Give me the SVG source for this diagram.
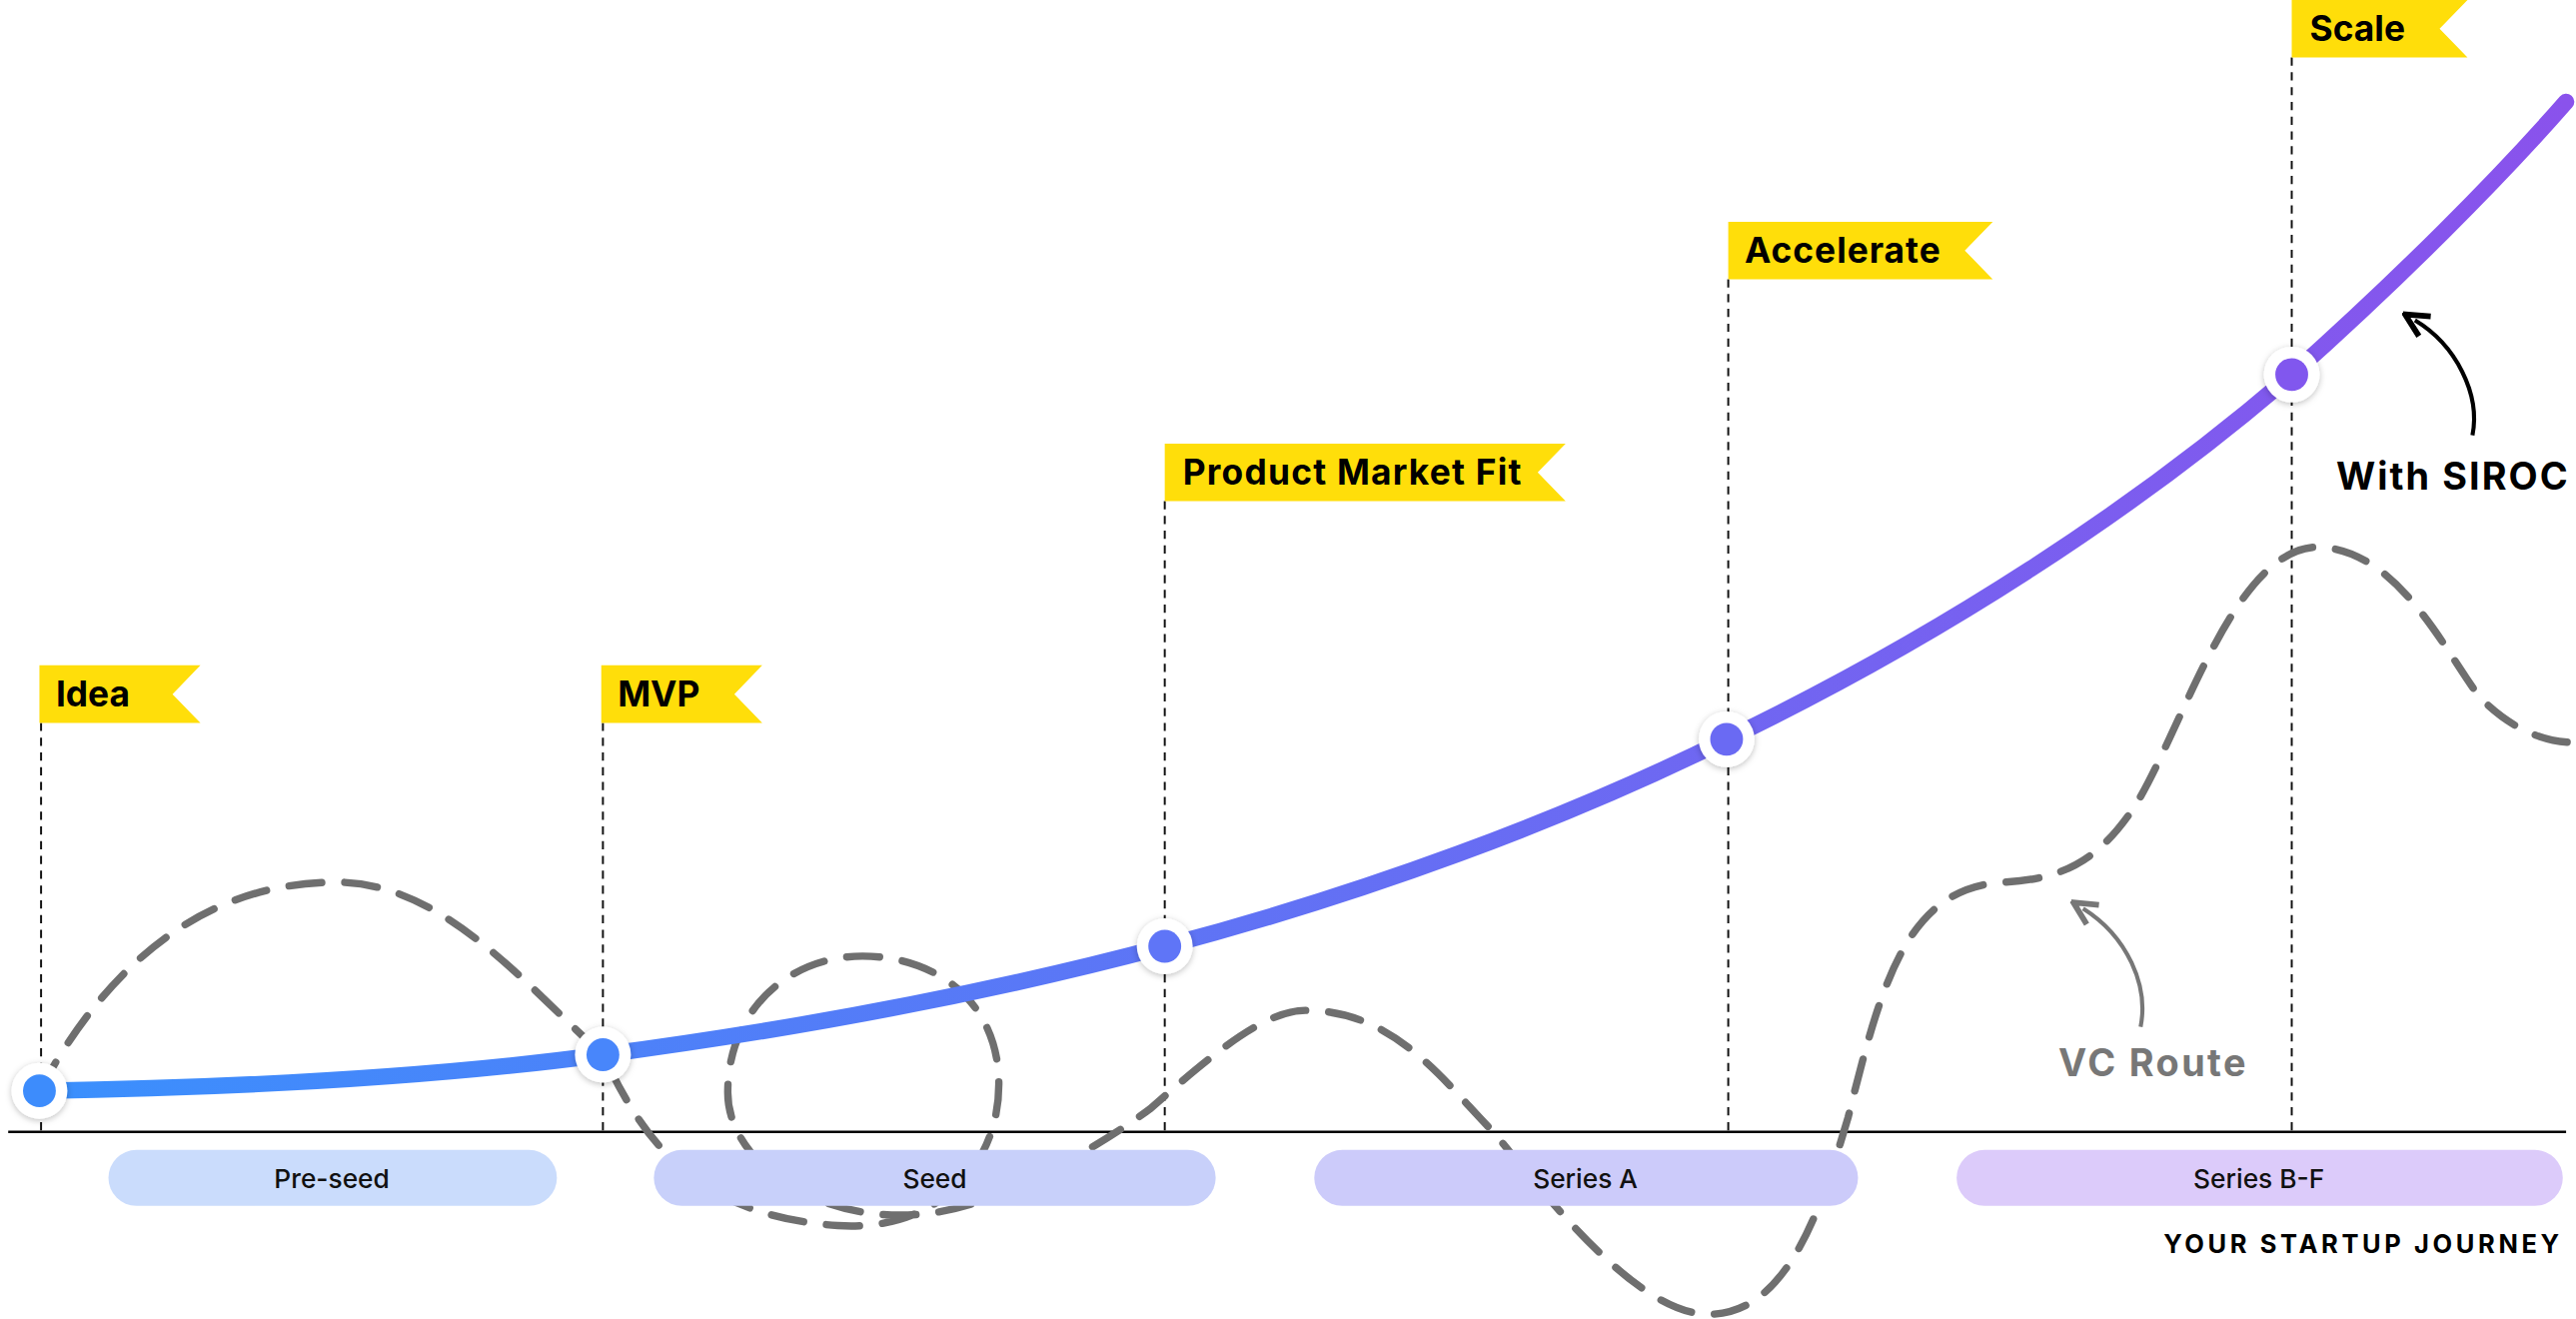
<svg xmlns="http://www.w3.org/2000/svg" width="2578" height="1320" viewBox="0 0 2578 1320">
<style>
.vl{stroke:#111;stroke-width:1.2;stroke-dasharray:5 4;fill:none}
.flag{fill:#ffde0a}
.ft{font-family:Inter,"Liberation Sans",sans-serif;font-weight:700;font-size:21.5px;fill:#000}
.pill text{font-family:Inter,"Liberation Sans",sans-serif;font-weight:500;font-size:16px;fill:#111;text-anchor:middle}
.halo{fill:#fff;filter:url(#sh)}
</style>
<defs>
<linearGradient id="g" x1="24" y1="0" x2="1562" y2="0" gradientUnits="userSpaceOnUse">
<stop offset="0" stop-color="#3a90fd"/><stop offset="1" stop-color="#8a52ec"/>
</linearGradient>
<filter id="sh" x="-50%" y="-50%" width="200%" height="200%"><feDropShadow dx="0" dy="1" stdDeviation="2" flood-opacity="0.25"/></filter>
<marker id="ab" viewBox="0 0 10 10" refX="5" refY="5" markerWidth="7" markerHeight="7" orient="auto-start-reverse"><path d="M1,1 L9,5 L1,9" fill="none" stroke="#000" stroke-width="2"/></marker>
<marker id="ag" viewBox="0 0 10 10" refX="5" refY="5" markerWidth="7" markerHeight="7" orient="auto-start-reverse"><path d="M1,1 L9,5 L1,9" fill="none" stroke="#777" stroke-width="2"/></marker>
</defs>
<rect width="2578" height="1320" fill="#fff"/>
<g transform="scale(1.6441)">
<g id="guides">
<line x1="5" y1="689" x2="1562" y2="689" stroke="#000" stroke-width="1.5"/>
<line class="vl" x1="25" y1="440" x2="25" y2="689"/>
<line class="vl" x1="367" y1="440" x2="367" y2="689"/>
<line class="vl" x1="709" y1="305" x2="709" y2="689"/>
<line class="vl" x1="1052" y1="170" x2="1052" y2="689"/>
<line class="vl" x1="1395" y1="35" x2="1395" y2="689"/>
</g>
<g id="connectors">
<path d="M24,664 C80,560 150,537 205,537 C270,537 320,600 367,642 C390,690 420,740 510,746 C570,750 608,710 608,660 C608,610 570,582 525,582 C480,582 443,615 443,665 C443,715 520,760 600,730 C640,715 680,690 700,675 C740,640 770,615 795,615 C850,615 880,660 910,690 C950,740 1000,800 1040,800 C1090,800 1110,730 1125,680 C1145,600 1160,540 1220,537 C1260,535 1280,520 1300,490 C1330,440 1360,335 1410,333 C1460,333 1490,400 1510,425 C1530,445 1550,452 1568,452" fill="none" stroke="#6f6f6f" stroke-width="4.5" stroke-dasharray="20 14" stroke-linecap="round"/>
<path d="M1505,265 C1510,240 1495,210 1470,195" fill="none" stroke="#000" stroke-width="2.5" marker-end="url(#ab)"/>
<path d="M1303,625 C1308,600 1295,570 1268,553" fill="none" stroke="#777" stroke-width="2.5" marker-end="url(#ag)"/>
</g>
<g id="pills">
<g class="pill" id="preseed"><rect x="66" y="700" width="273" height="34" rx="17" fill="#cadcfc"/><text x="202" y="723">Pre-seed</text></g>
<g class="pill" id="seed"><rect x="398" y="700" width="342" height="34" rx="17" fill="#c8d0fa"/><text x="569" y="723">Seed</text></g>
<g class="pill" id="seriesa"><rect x="800" y="700" width="331" height="34" rx="17" fill="#cccbfa"/><text x="965" y="723">Series A</text></g>
<g class="pill" id="seriesbf"><rect x="1191" y="700" width="369" height="34" rx="17" fill="#dccbfa"/><text x="1375" y="723">Series B-F</text></g>
</g>
<path id="curve" d="M24,664 C150,662 270,655 367,642 C480,627 600,605 709,576 C830,544 950,500 1051,450 C1180,388 1300,310 1395,228 C1460,170 1520,110 1562,62" fill="none" stroke="url(#g)" stroke-width="10" stroke-linecap="round"/>
<g id="n1"><circle class="halo" cx="24" cy="664" r="17"/><circle cx="24" cy="664" r="10" fill="#3d8cfc"/></g>
<g id="n2"><circle class="halo" cx="367" cy="642" r="17"/><circle cx="367" cy="642" r="10" fill="#4886fb"/></g>
<g id="n3"><circle class="halo" cx="709" cy="576" r="17"/><circle cx="709" cy="576" r="10" fill="#5f75f7"/></g>
<g id="n4"><circle class="halo" cx="1051" cy="450" r="17"/><circle cx="1051" cy="450" r="10" fill="#6a6af3"/></g>
<g id="n5"><circle class="halo" cx="1395" cy="228" r="17"/><circle cx="1395" cy="228" r="10" fill="#8157ee"/></g>
<g id="idea"><polygon class="flag" points="24,405 122,405 105,422.5 122,440 24,440"/><text class="ft" x="34" y="430">Idea</text></g>
<g id="mvp"><polygon class="flag" points="366,405 464,405 447,422.5 464,440 366,440"/><text class="ft" x="376" y="430">MVP</text></g>
<g id="pmf"><polygon class="flag" points="709,270 953,270 936,287.5 953,305 709,305"/><text class="ft" x="720" y="295" textLength="206">Product Market Fit</text></g>
<g id="accel"><polygon class="flag" points="1052,135 1213,135 1196,152.5 1213,170 1052,170"/><text class="ft" x="1062" y="160" textLength="119">Accelerate</text></g>
<g id="scale"><polygon class="flag" points="1395,0 1502,0 1485,17.5 1502,35 1395,35"/><text class="ft" x="1406" y="25">Scale</text></g>
<text x="1422" y="298" font-family="Inter,'Liberation Sans',sans-serif" font-weight="700" font-size="23" fill="#000" textLength="141">With SIROC</text>
<text x="1253" y="655" font-family="Inter,'Liberation Sans',sans-serif" font-weight="700" font-size="23" fill="#777" textLength="114">VC Route</text>
<text x="1560" y="763" text-anchor="end" font-family="Inter,'Liberation Sans',sans-serif" font-weight="700" font-size="15.5" letter-spacing="2.2" fill="#000">YOUR STARTUP JOURNEY</text>
</g>
</svg>
